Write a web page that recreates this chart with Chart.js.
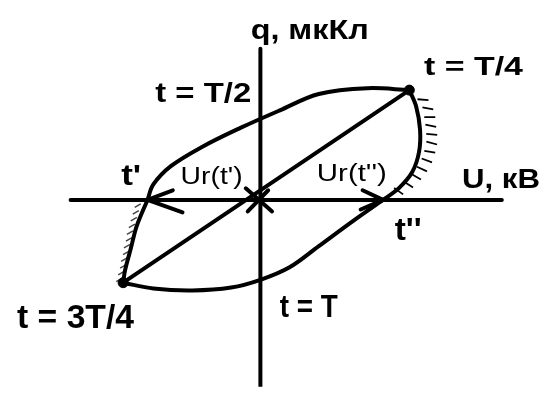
<!DOCTYPE html>
<html>
<head>
<meta charset="utf-8">
<script src="https://cdn.jsdelivr.net/npm/chart.js@4/dist/chart.umd.min.js"></script>
<style>
  html, body { margin: 0; padding: 0; background: #fff; }
  #wrap { width: 550px; height: 394px; position: relative; }
</style>
</head>
<body>
<div id="wrap"><canvas id="loop"></canvas></div>
<script>
// q-U loop, points given as [U, q] in plot units (origin at the axes crossing)
var upperArc = [[15.3, 11.4], [11, 11.6], [6, 11.0], [2, 9.3], [-2, 7.5], [-6, 5.5], [-9.2, 3.5], [-11, 1.6], [-11.6, 0]];
var leftArc  = [[-11.6, 0], [-12.7, -2.7], [-13.3, -5.0], [-13.9, -7.3], [-14.1, -8.6]];
var lowerArc = [[-14.1, -8.6], [-11, -9.2], [-7, -9.4], [-3, -9.1], [0, -8.3], [3, -7.0], [6, -4.8], [9.5, -2.2], [12.6, 0]];
var rightArc = [[12.6, 0], [14.2, 1.2], [15.6, 2.9], [16.3, 5.0], [16.4, 7.3], [16, 9.7], [15.3, 11.4]];
var diagonal = [[-14.1, -8.6], [15.3, 11.4]];
var peaks    = [[15.3, 11.4], [-14.1, -8.6]];

var uAxis = [[-19.5, 0], [24.8, 0]];
var qAxis = [[0, 15.7], [0, -19.4]];

// Ur arrows at t' and t''
var arrowLeft  = [[-9, 1.0], [-11.6, 0], [-8, -1.3]];
var arrowRight = [[10.5, 1.0], [12.6, 0], [10.3, -1.0]];
var crossA = [[-1.5, 1.2], [1.2, -1.2]];
var crossB = [[-1.3, -1.2], [0.8, 1.0]];

// hatching on the outer side of the steep parts
var hatchRight = [[16.7, 10.4], [17.2, 9.5], [17.4, 8.6], [17.5, 7.7], [17.6, 6.8], [17.6, 5.9], [17.4, 5.0], [17.1, 4.1], [16.6, 3.2], [16.0, 2.4], [15.2, 1.6], [14.2, 0.9]];
var hatchRightTilt = [5, 10, 0, 12, 5, 15, 10, 20, 25, 30, 32, 35];
var hatchLeft = [[-12.6, -0.6], [-12.8, -1.3], [-13.0, -2.0], [-13.2, -2.7], [-13.4, -3.4], [-13.5, -4.1], [-13.7, -4.8], [-13.8, -5.5], [-14.0, -6.2], [-14.1, -6.9], [-14.3, -7.6], [-14.5, -8.3]];

// text: [string, U, q (baseline left), font, width]
var labels = [
  ['q, мкКл', -1.0, 16.7, 'bold 28px', 118],
  ['t = T/4', 16.8, 13.0, 'bold 25px', 99],
  ['t = T/2', -10.8, 10.2, 'bold 28px', 96],
  ["t'", -14.3, 1.5, 'bold 30px', 20],
  ["Ur(t')", -8.2, 1.7, '23px', 62],
  ["Ur(t'')", 5.8, 2.0, '23px', 70],
  ['U, кВ', 20.7, 1.2, 'bold 28px', 78],
  ["t''", 13.8, -4.2, 'bold 32px', 27],
  ['t = 3T/4', -25.0, -13.3, 'bold 33px', 117],
  ['t = T', 2.0, -12.2, 'bold 31px', 58]
];

function pts(a) {
  return a.map(function (p) { return { x: p[0], y: p[1] }; });
}

function line(a, w, tension) {
  return {
    data: pts(a),
    showLine: true,
    borderColor: '#000',
    borderWidth: w,
    pointRadius: 0,
    tension: tension || 0,
    borderCapStyle: 'round',
    borderJoinStyle: 'round'
  };
}

var textPlugin = {
  id: 'textLabels',
  afterDatasetsDraw: function (chart) {
    var ctx = chart.ctx, sx = chart.scales.x, sy = chart.scales.y;
    ctx.save();
    ctx.fillStyle = '#000';
    ctx.textBaseline = 'alphabetic';
    labels.forEach(function (l) {
      ctx.font = l[3] + ' "Liberation Sans", Arial, sans-serif';
      var k = l[4] / ctx.measureText(l[0]).width;
      ctx.save();
      ctx.translate(sx.getPixelForValue(l[1]), sy.getPixelForValue(l[2]));
      ctx.scale(k, 1);
      ctx.fillText(l[0], 0, 0);
      ctx.restore();
    });
    ctx.restore();
  }
};

var ctx = document.getElementById('loop').getContext('2d');
var chart = new Chart(ctx, {
  type: 'scatter',
  data: {
    datasets: [
      line(uAxis, 4),
      line(qAxis, 4),
      line(upperArc, 4, 0.35),
      line(leftArc, 4, 0.35),
      line(lowerArc, 4, 0.35),
      line(rightArc, 4, 0.35),
      line(diagonal, 4),
      line(arrowLeft, 4),
      line(arrowRight, 4),
      line(crossA, 4),
      line(crossB, 4),
      {
        data: pts(peaks),
        pointRadius: 5,
        pointBackgroundColor: '#000',
        pointBorderColor: '#000'
      },
      {
        data: pts(hatchRight),
        pointStyle: 'line',
        pointRadius: 5.5,
        rotation: hatchRightTilt,
        pointBorderColor: '#000',
        pointBorderWidth: 1.8
      },
      {
        data: pts(hatchLeft),
        pointStyle: 'line',
        pointRadius: 3.5,
        rotation: -30,
        pointBorderColor: '#444',
        pointBorderWidth: 1.4
      }
    ]
  },
  options: {
    responsive: true,
    maintainAspectRatio: false,
    animation: false,
    layout: { padding: 0 },
    plugins: { legend: { display: false }, tooltip: { enabled: false } },
    scales: {
      x: { type: 'linear', min: -26, max: 29, display: false },
      y: { type: 'linear', min: -19.4, max: 20, display: false }
    }
  },
  plugins: [textPlugin]
});
</script>
</body>
</html>
